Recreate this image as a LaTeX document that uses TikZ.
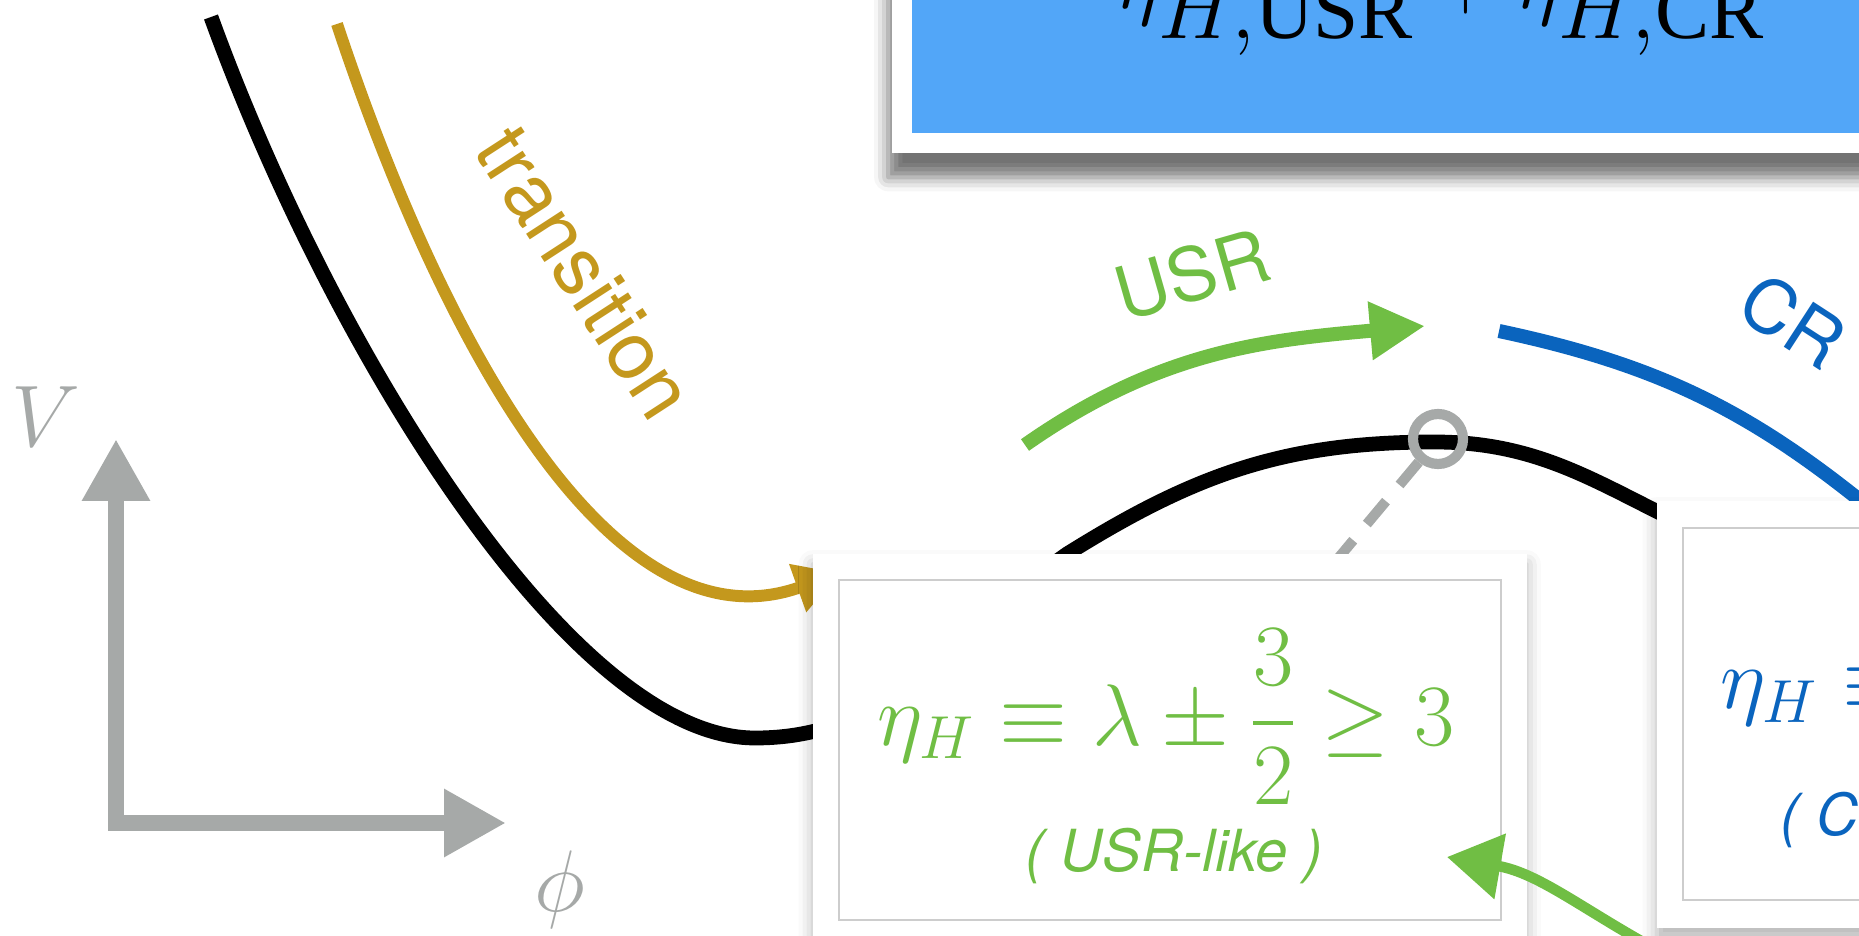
\documentclass[tikz,border=0pt]{standalone}
\usepackage{amsmath}
\usepackage{fontspec}
\setmainfont{Liberation Serif}
\setsansfont{TeX Gyre Heros}
\usetikzlibrary{arrows.meta,shadows.blur}

\definecolor{usrgreen}{RGB}{112,190,68}
\definecolor{crblue}{RGB}{10,100,190}
\definecolor{boxblue}{RGB}{82,166,248}
\definecolor{gold}{RGB}{196,152,29}
\definecolor{axisgray}{RGB}{166,169,168}
\definecolor{framegray}{RGB}{205,205,205}

\begin{document}
\begin{tikzpicture}[
  card/.style={fill=white, inner sep=0pt, anchor=north west,
    blur shadow={shadow xshift=0pt, shadow yshift=-3pt, shadow blur radius=4pt, shadow opacity=30}},
  innerframe/.style={draw=framegray, line width=0.6pt, inner sep=0pt, anchor=north west},
  curve/.style={line width=4.2pt},
  axisline/.style={axisgray, line width=4.8pt,
    {Triangle[length=6.2mm,width=6.4mm]}-{Triangle[length=6.2mm,width=6.4mm]}},
  sflabel/.style={font=\sffamily\fontsize{21}{25}\selectfont, inner sep=0pt},
]
\useasboundingbox (0,0) rectangle (18.59,9.35);
\clip (0,0) rectangle (18.59,9.35);

% Axes
\coordinate (origin) at (1.16,1.12);
\draw[axisline] (1.16,4.96) -- (origin) -- (5.06,1.12);
\node[text=axisgray, font=\fontsize{26}{30}\selectfont] (vlabel) at (0.46,5.18) {$V$};
\node[text=axisgray, font=\fontsize{26}{30}\selectfont] (philabel) at (5.60,0.45) {$\phi$};

% Potential
\coordinate (top) at (2.11,9.18);
\coordinate (dip) at (7.55,1.97);
\coordinate (rise) at (10.67,3.81);
\coordinate (peak) at (14.35,4.93);
\draw[curve] (top) .. controls (3.3,5.9) and (5.7,1.97) .. (dip)
  to[out=0,in=215] (rise) to[out=32,in=180] (peak) to[out=0,in=158] (17.3,3.9);

% Transition
\draw[curve, gold, line width=3.4pt, -{Triangle[length=4.5mm,width=4.8mm]}]
  (3.37,9.11) .. controls (4.4,6.0) and (6.1,2.8) .. (8.40,3.62);
\node[sflabel, text=gold, rotate=-57, font=\sffamily\fontsize{23}{27}\selectfont] (translabel) at (5.85,6.62) {transition};

% USR arrow
\coordinate (usrfrom) at (10.25,4.90);
\coordinate (usrto) at (14.25,6.09);
\draw[curve, line width=4pt, usrgreen, -{Triangle[length=5.5mm,width=5.5mm]}] (usrfrom) to[out=35,in=185] (usrto);
\node[sflabel, text=usrgreen, rotate=16] (usrlabel) at (11.92,6.61) {USR};

% CR branch
\draw[curve, line width=4pt, crblue] (14.99,6.04) to[out=-12,in=140] (18.9,4.1);
\node[sflabel, text=crblue, rotate=-33] (crlabel) at (17.93,6.14) {CR};

% Marker on the hilltop
\node[circle, draw=axisgray, line width=2.9pt, minimum size=0.5cm, inner sep=0pt] (ring) at (14.38,4.96) {};
\coordinate (ptr) at (13.25,3.61);
\draw[axisgray, line width=2.9pt, dash pattern=on 8.5pt off 6pt] (ring) -- (ptr);

% Top panel
\node[fill=white, inner sep=0pt, anchor=north west, minimum width=11cm, minimum height=2.07cm,
  blur shadow={shadow xshift=-1pt, shadow yshift=-7pt, shadow blur radius=4pt, shadow opacity=55}] (toppanel) at (8.91,9.9) {};
\node[fill=boxblue, inner sep=0pt, anchor=north west, minimum width=10.5cm, minimum height=1.87cm] (sumbox) at (9.11,9.9) {};
\node[font=\fontsize{33}{39}\selectfont, anchor=base, inner sep=0pt] (sumtext) at (14.41,9.26)
  {$\eta_{H,\mathrm{USR}}+\eta_{H,\mathrm{CR}}$};

% USR card
\node[card, minimum width=7.14cm, minimum height=4.6cm] (usrcard) at (8.12,3.82) {};
\node[innerframe, minimum width=6.62cm, minimum height=3.40cm] (usrframe) at (8.38,3.56) {};
\node[text=usrgreen, font=\fontsize{24}{30}\selectfont, anchor=base, inner sep=0pt] (usreta) at (11.66,1.90)
  {$\eta_H \equiv \lambda \pm \dfrac{3}{2} \geq 3$};
\node[text=usrgreen, font=\sffamily\itshape\fontsize{16.5}{20}\selectfont, anchor=base, inner sep=0pt] (usrlike) at (11.74,0.64)
  {( USR-like )};

% CR card
\node[card, minimum width=3.5cm, minimum height=4.27cm] (crcard) at (16.56,4.35) {};
\node[innerframe, minimum width=3cm, minimum height=3.72cm] (crframe) at (16.82,4.08) {};
\node[text=crblue, font=\fontsize{24}{30}\selectfont, anchor=base west, inner sep=0pt] (creta) at (17.20,2.26)
  {$\eta_H \equiv$};
\node[text=crblue, font=\sffamily\itshape\fontsize{16.5}{20}\selectfont, anchor=base west, inner sep=0pt] (crlike) at (17.80,1.00)
  {( CR-like )};

% Sketched pointer
\coordinate (sketchfrom) at (16.70,-0.22);
\coordinate (sketchto) at (14.47,0.78);
\draw[usrgreen, line width=3pt, -{Triangle[length=5.4mm,width=6.4mm]}] (sketchfrom) to[out=152,in=-10] (sketchto);
\end{tikzpicture}
\end{document}
